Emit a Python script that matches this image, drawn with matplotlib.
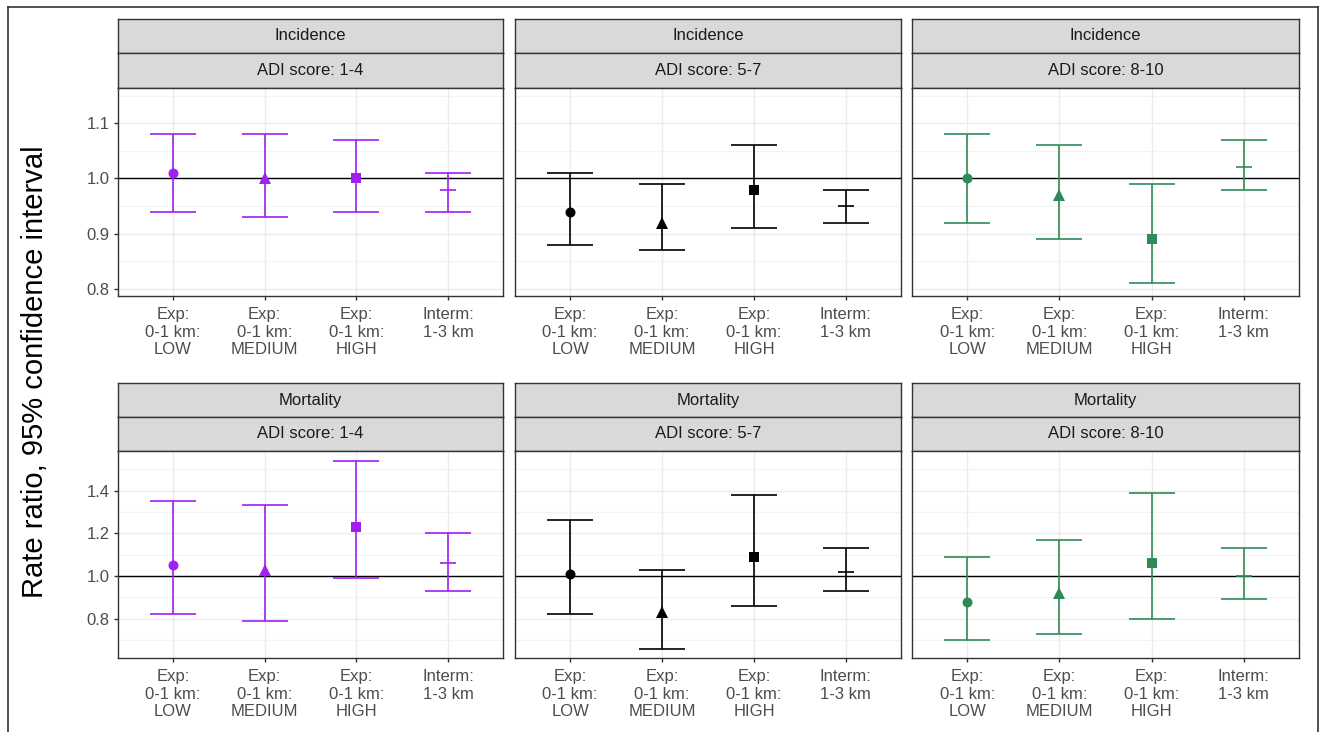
import matplotlib
matplotlib.use("Agg")
import matplotlib.pyplot as plt
from matplotlib.lines import Line2D
import numpy as np

plt.rcParams["font.family"] = ["Liberation Sans", "DejaVu Sans"]

# ---- Data ----
categories = ["Exp:\n0-1 km:\nLOW", "Exp:\n0-1 km:\nMEDIUM", "Exp:\n0-1 km:\nHIGH", "Interm:\n1-3 km"]
cat_markers = ["o", "^", "s", "_"]
outcomes = ["Incidence", "Mortality"]
adi_groups = ["ADI score: 1-4", "ADI score: 5-7", "ADI score: 8-10"]
adi_colors = ["#A020F0", "#000000", "#2E8B57"]

# rows = ADI group, columns = category
inc_est = [[1.01, 1.00, 1.00, 0.98],
           [0.94, 0.92, 0.98, 0.95],
           [1.00, 0.97, 0.89, 1.02]]
inc_lo = [[0.94, 0.93, 0.94, 0.94],
          [0.88, 0.87, 0.91, 0.92],
          [0.92, 0.89, 0.81, 0.98]]
inc_hi = [[1.08, 1.08, 1.07, 1.01],
          [1.01, 0.99, 1.06, 0.98],
          [1.08, 1.06, 0.99, 1.07]]

mort_est = [[1.05, 1.03, 1.23, 1.06],
            [1.01, 0.83, 1.09, 1.02],
            [0.88, 0.92, 1.06, 1.00]]
mort_lo = [[0.82, 0.79, 0.99, 0.93],
           [0.82, 0.66, 0.86, 0.93],
           [0.70, 0.73, 0.80, 0.89]]
mort_hi = [[1.35, 1.33, 1.54, 1.20],
           [1.26, 1.03, 1.38, 1.13],
           [1.09, 1.17, 1.39, 1.13]]

# ---- Layout (pixels of a 1324x732 canvas) ----
W, H = 1324, 732
col_x = [(118, 503), (515, 901), (912, 1299)]
row_y = [(19, 53, 88, 296), (383, 417, 451, 658)]
row_ylim = [(0.787, 1.164), (0.616, 1.585)]
row_major = [[0.8, 0.9, 1.0, 1.1], [0.8, 1.0, 1.2, 1.4]]
row_minor = [[0.85, 0.95, 1.05, 1.15], [0.7, 0.9, 1.1, 1.3, 1.5]]
marker_sizes = {"o": 7.2, "^": 8.5, "s": 7.5, "_": 11}


def rect(x0, y0, x1, y1):
    return [x0 / W, 1 - y1 / H, (x1 - x0) / W, (y1 - y0) / H]


def strip(fig, x0, y0, x1, y1, label):
    sax = fig.add_axes(rect(x0, y0, x1, y1))
    sax.set_facecolor("#D9D9D9")
    sax.set_xticks([])
    sax.set_yticks([])
    for s in sax.spines.values():
        s.set_color("#333333")
        s.set_linewidth(1.0)
    sax.text(0.5, 0.5, label, transform=sax.transAxes, ha="center", va="center",
             fontsize=12, color="#1A1A1A")


fig = plt.figure(figsize=(W / 100, H / 100), dpi=100)
fig.patch.set_facecolor("white")

xpos = np.arange(1, len(categories) + 1)
data = [(inc_est, inc_lo, inc_hi), (mort_est, mort_lo, mort_hi)]

for r, outcome in enumerate(outcomes):
    est_all, lo_all, hi_all = data[r]
    s1, s2, p0, p1 = row_y[r]
    for c, adi in enumerate(adi_groups):
        x0, x1 = col_x[c]
        strip(fig, x0, s1, x1, s2, outcome)
        strip(fig, x0, s2, x1, p0, adi)

        ax = fig.add_axes(rect(x0, p0, x1, p1))
        ax.set_xlim(0.4, 4.6)
        ax.set_ylim(*row_ylim[r])
        ax.set_yticks(row_major[r])
        ax.set_yticks(row_minor[r], minor=True)
        ax.set_xticks(xpos)
        ax.set_xticklabels(categories, linespacing=1.2)
        ax.grid(True, which="major", color="#EBEBEB", linewidth=1.0)
        ax.grid(True, which="minor", axis="y", color="#F3F3F3", linewidth=0.8)
        ax.set_axisbelow(True)
        for s in ax.spines.values():
            s.set_color("#333333")
            s.set_linewidth(1.0)
        ax.tick_params(axis="both", which="major", colors="#333333", length=3,
                       width=1.0, labelsize=12, labelcolor="#4D4D4D", pad=3)
        ax.tick_params(axis="x", which="major", pad=5)
        ax.tick_params(axis="y", which="minor", length=0)
        if c == 0:
            ax.set_yticklabels([f"{v:.1f}" for v in row_major[r]])
        else:
            ax.tick_params(axis="y", which="major", length=0, labelleft=False)

        ax.axhline(1.0, color="black", linewidth=1.0, zorder=2)

        col = adi_colors[c]
        est = np.array(est_all[c])
        lo = np.array(lo_all[c])
        hi = np.array(hi_all[c])
        ax.vlines(xpos, lo, hi, color=col, linewidth=1.2, zorder=3)
        ax.hlines(lo, xpos - 0.25, xpos + 0.25, color=col, linewidth=1.2, zorder=3)
        ax.hlines(hi, xpos - 0.25, xpos + 0.25, color=col, linewidth=1.2, zorder=3)
        for i, m in enumerate(cat_markers):
            if m == "_":
                ax.plot(xpos[i], est[i], marker=m, color=col, markersize=marker_sizes[m],
                        markeredgewidth=1.2, zorder=4)
            else:
                ax.plot(xpos[i], est[i], marker=m, color=col, markersize=marker_sizes[m],
                        markeredgewidth=0, zorder=4)

fig.text(35 / W, 1 - 372 / H, "Rate ratio, 95% confidence interval", rotation=90,
         ha="center", va="center", fontsize=21, color="black")

# outer frame (open at the bottom, as in the reference)
bx0, bx1, by0 = 8 / W, 1318 / W, 1 - 7 / H
for xs, ys in [([bx0, bx0], [0, by0]), ([bx0, bx1], [by0, by0]), ([bx1, bx1], [by0, 0])]:
    fig.add_artist(Line2D(xs, ys, color="#333333", linewidth=1.2, transform=fig.transFigure))

fig.savefig("out.png", dpi=100)
